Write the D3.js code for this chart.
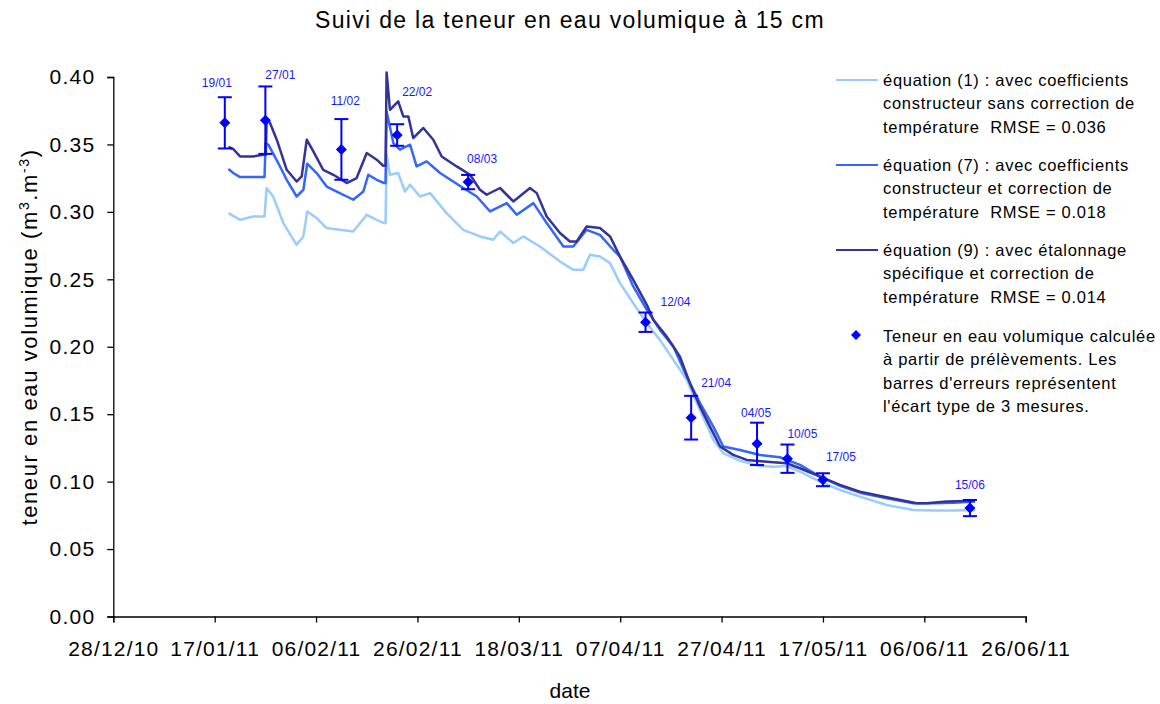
<!DOCTYPE html>
<html><head><meta charset="utf-8">
<script src="https://cdn.jsdelivr.net/npm/d3@7"></script>
<style>
body{margin:0;background:#fff}
text{font-family:"Liberation Sans",Arial,sans-serif}
</style>
</head><body>
<svg id="c" width="1160" height="704"></svg>
<script>
// ---------- DATA ----------
const title = "Suivi de la teneur en eau volumique à 15 cm";
const xTickLabels = ["28/12/10","17/01/11","06/02/11","26/02/11","18/03/11","07/04/11","27/04/11","17/05/11","06/06/11","26/06/11"];
const yTicks = [0,0.05,0.10,0.15,0.20,0.25,0.30,0.35,0.40];

// équation (1) – light blue
const eq1 = [
["2011-01-19T17",0.2991],["2011-01-22T00",0.2941],["2011-01-24T15",0.2966],["2011-01-26T08",0.2966],["2011-01-26T20",0.2966],
["2011-01-27T06",0.3177],["2011-01-28T13",0.3114],["2011-01-30T13",0.2917],["2011-02-02T04",0.2756],["2011-02-03T12",0.2818],
["2011-02-04T06",0.3003],["2011-02-06T03",0.2954],["2011-02-08T02",0.2880],["2011-02-10T17",0.2867],["2011-02-13T08",0.2855],
["2011-02-16T00",0.2978],["2011-02-17T23",0.2941],["2011-02-19T10",0.2917],["2011-02-19T17",0.2917],["2011-02-19T22",0.3424],
["2011-02-20T14",0.3275],["2011-02-22T05",0.3288],["2011-02-23T13",0.3151],["2011-02-24T13",0.3201],["2011-02-26T12",0.3114],
["2011-02-28T12",0.3139],["2011-03-03T18",0.2991],["2011-03-07T01",0.2867],["2011-03-10T08",0.2818],["2011-03-12T23",0.2793],
["2011-03-14T07",0.2855],["2011-03-16T22",0.2769],["2011-03-18T21",0.2818],["2011-03-22T04",0.2743],["2011-03-26T03",0.2632],
["2011-03-28T18",0.2570],["2011-03-30T17",0.2570],["2011-04-01T01",0.2682],["2011-04-03T00",0.2669],["2011-04-05T00",0.2620],
["2011-04-06T23",0.2472],["2011-04-09T14",0.2323],["2011-04-12T06",0.2175],["2011-04-14T20",0.2051],["2011-04-17T12",0.1903],
["2011-04-20T03",0.1754],["2011-04-22T18",0.1532],["2011-04-25T09",0.1309],["2011-04-27T08",0.1211],["2011-04-30T15",0.1154],
["2011-05-04T14",0.1116],["2011-05-07T05",0.1111],["2011-05-09T20",0.1116],["2011-05-12T11",0.1074],["2011-05-16T10",0.1000],
["2011-05-20T09",0.0938],["2011-05-24T07",0.0889],["2011-05-29T14",0.0827],["2011-06-03T20",0.0790],["2011-06-07T18",0.0785],
["2011-06-11T17",0.0785],["2011-06-16T00",0.0790]
];
// équation (7) – mid blue
const eq7 = [
["2011-01-19T17",0.3318],["2011-01-20T16",0.3288],["2011-01-22T00",0.3258],["2011-01-26T11",0.3258],["2011-01-26T20",0.3258],
["2011-01-27T01",0.3510],["2011-01-27T14",0.3498],["2011-01-29T13",0.3362],["2011-01-31T05",0.3238],["2011-02-02T04",0.3114],
["2011-02-03T12",0.3164],["2011-02-04T06",0.3357],["2011-02-06T03",0.3288],["2011-02-08T02",0.3188],["2011-02-10T02",0.3151],
["2011-02-12T01",0.3114],["2011-02-13T08",0.3090],["2011-02-15T08",0.3151],["2011-02-16T07",0.3275],["2011-02-17T23",0.3238],
["2011-02-19T10",0.3214],["2011-02-19T17",0.3214],["2011-02-19T22",0.3745],["2011-02-21T06",0.3510],["2011-02-22T13",0.3461],
["2011-02-24T13",0.3498],["2011-02-25T20",0.3337],["2011-02-27T20",0.3374],["2011-03-02T11",0.3288],["2011-03-07T01",0.3177],
["2011-03-09T17",0.3114],["2011-03-12T08",0.3003],["2011-03-15T15",0.3065],["2011-03-17T14",0.2979],["2011-03-20T21",0.3065],
["2011-03-23T12",0.2917],["2011-03-26T19",0.2743],["2011-03-28T18",0.2743],["2011-03-31T09",0.2867],["2011-04-03T00",0.2830],
["2011-04-05T15",0.2719],["2011-04-06T23",0.2669],["2011-04-09T14",0.2447],["2011-04-12T06",0.2274],["2011-04-14T20",0.2125],
["2011-04-17T12",0.2001],["2011-04-20T03",0.1779],["2011-04-22T18",0.1582],["2011-04-25T09",0.1408],["2011-04-27T08",0.1260],
["2011-04-30T15",0.1235],["2011-05-04T14",0.1198],["2011-05-08T12",0.1181],["2011-05-12T11",0.1124],["2011-05-16T10",0.1037],
["2011-05-20T09",0.0968],["2011-05-24T07",0.0918],["2011-05-29T14",0.0877],["2011-06-03T20",0.0840],["2011-06-07T18",0.0840],
["2011-06-11T17",0.0844],["2011-06-16T00",0.0852]
];
// équation (9) – dark blue
const eq9 = [
["2011-01-19T17",0.3481],["2011-01-20T16",0.3466],["2011-01-22T00",0.3411],["2011-01-24T15",0.3411],["2011-01-26T14",0.3424],
["2011-01-27T02",0.3424],["2011-01-27T06",0.3683],["2011-01-27T22",0.3659],["2011-01-29T06",0.3535],["2011-01-31T05",0.3312],
["2011-02-02T04",0.3225],["2011-02-03T04",0.3263],["2011-02-04T04",0.3535],["2011-02-05T11",0.3448],["2011-02-07T10",0.3312],
["2011-02-09T10",0.3275],["2011-02-12T01",0.3214],["2011-02-14T00",0.3251],["2011-02-16T00",0.3436],["2011-02-17T23",0.3387],
["2011-02-19T06",0.3342],["2011-02-19T17",0.3342],["2011-02-19T22",0.4034],["2011-02-20T14",0.3757],["2011-02-22T05",0.3819],
["2011-02-23T05",0.3708],["2011-02-24T05",0.3708],["2011-02-25T04",0.3547],["2011-02-27T04",0.3622],["2011-03-01T03",0.3535],
["2011-03-02T19",0.3411],["2011-03-05T18",0.3337],["2011-03-08T09",0.3275],["2011-03-10T08",0.3164],["2011-03-11T16",0.3127],
["2011-03-14T07",0.3177],["2011-03-16T22",0.3077],["2011-03-20T05",0.3177],["2011-03-21T13",0.3139],["2011-03-23T12",0.2966],
["2011-03-26T03",0.2843],["2011-03-28T02",0.2780],["2011-03-29T10",0.2780],["2011-03-31T09",0.2892],["2011-04-03T00",0.2880],
["2011-04-05T00",0.2818],["2011-04-06T23",0.2669],["2011-04-09T14",0.2496],["2011-04-12T06",0.2311],["2011-04-13T13",0.2200],
["2011-04-16T04",0.2076],["2011-04-18T19",0.1927],["2011-04-20T18",0.1730],["2011-04-22T18",0.1556],["2011-04-24T17",0.1408],
["2011-04-26T17",0.1260],["2011-04-29T07",0.1198],["2011-05-01T23",0.1161],["2011-05-05T22",0.1148],["2011-05-09T20",0.1136],
["2011-05-12T11",0.1099],["2011-05-16T10",0.1037],["2011-05-20T09",0.0976],["2011-05-24T07",0.0926],["2011-05-29T14",0.0884],
["2011-06-04T12",0.0840],["2011-06-06T11",0.0840],["2011-06-10T10",0.0852],["2011-06-16T00",0.0859]
];

// samples (prélèvements)
const sampleDates  = ["2011-01-19","2011-01-27","2011-02-11","2011-02-22","2011-03-08","2011-04-12","2011-04-21","2011-05-04","2011-05-10","2011-05-17","2011-06-15"];
const sampleLabels = ["19/01","27/01","11/02","22/02","08/03","12/04","21/04","04/05","10/05","17/05","15/06"];
const sampleValues = [0.366,0.368,0.3463,0.357,0.3221,0.2182,0.1474,0.128,0.117,0.1014,0.0804];
const sampleErrors = [0.019,0.025,0.0225,0.008,0.0053,0.0072,0.0162,0.0157,0.0105,0.0048,0.006];

const legendTexts = [
 ["équation (1) : avec coefficients","constructeur sans correction de","température  RMSE = 0.036"],
 ["équation (7) : avec coefficients","constructeur et correction de","température  RMSE = 0.018"],
 ["équation (9) : avec étalonnage","spécifique et correction de","température  RMSE = 0.014"],
 ["Teneur en eau volumique calculée","à partir de prélèvements. Les","barres d'erreurs représentent","l'écart type de 3 mesures."]
];

// ---------- LAYOUT / STYLE ----------
const colors = {eq1:"#99ccff", eq7:"#3366ff", eq9:"#333399", pt:"#0000ff", lab:"#1a1aff"};
const labelOffsets = [[-8,-10],[15,-7],[4,-14],[20,-28],[14,-12],[30,-6],[25,-9],[-1,-6],[15,-7],[18,-12],[0,-11]];
const plotL=113.3, plotR=1025.7, plotT=77, plotB=616.5;

const svg = d3.select("#c");
const pT = d3.timeParse("%Y-%m-%dT%H");
const pD = d3.timeParse("%Y-%m-%d");
const pTick = d3.timeParse("%d/%m/%y");
const fTick = d3.timeFormat("%d/%m/%y");

const x = d3.scaleTime().domain([pTick(xTickLabels[0]), pTick(xTickLabels[xTickLabels.length-1])]).range([plotL,plotR]);
const y = d3.scaleLinear().domain([0,0.4]).range([plotB,plotT]);

// title
svg.append("text").attr("x",570).attr("y",28).attr("text-anchor","middle")
  .attr("font-size",23).attr("letter-spacing",1.3).attr("fill","#000").text(title);

// axes
const xAxis = d3.axisBottom(x).tickValues(xTickLabels.map(pTick)).tickFormat(fTick).tickSize(6).tickPadding(19);
const gx = svg.append("g").attr("transform",`translate(0,${plotB})`).call(xAxis);
const yAxis = d3.axisLeft(y).tickValues(yTicks).tickFormat(d3.format(".2f")).tickSize(6).tickPadding(12);
const gy = svg.append("g").attr("transform",`translate(${plotL},0)`).call(yAxis);
[gx,gy].forEach(g=>{
  g.select(".domain").attr("stroke","#000").attr("stroke-width",1.3);
  g.selectAll(".tick line").attr("stroke","#000").attr("stroke-width",1.3);
  g.selectAll(".tick text").attr("font-size",21).attr("fill","#000").attr("font-family","Liberation Sans, Arial, sans-serif");
});
gx.selectAll(".tick text").attr("letter-spacing",1.2);
gy.selectAll(".tick text").attr("letter-spacing",1.2);

// axis titles
svg.append("text").attr("x",570).attr("y",698).attr("text-anchor","middle").attr("font-size",21).text("date");
const yl = svg.append("text").attr("transform","translate(37,337) rotate(-90)").attr("text-anchor","middle")
  .attr("font-size",22).attr("letter-spacing",1.6);
yl.append("tspan").text("teneur en eau volumique (m");
yl.append("tspan").attr("font-size",14).attr("dy",-8).text("3");
yl.append("tspan").attr("dy",8).text(".m");
yl.append("tspan").attr("font-size",14).attr("dy",-8).text("-3");
yl.append("tspan").attr("dy",8).text(")");

// lines
const line = d3.line().x(d=>x(pT(d[0]))).y(d=>y(d[1]));
[[eq1,colors.eq1],[eq7,colors.eq7],[eq9,colors.eq9]].forEach(([data,c])=>{
  svg.append("path").datum(data).attr("d",line).attr("fill","none").attr("stroke",c)
    .attr("stroke-width",2.5).attr("stroke-linejoin","round");
});

// error bars + diamonds + labels
const diamond = "M0,-5.5L5.5,0L0,5.5L-5.5,0Z";
const gs = svg.append("g");
sampleDates.forEach((ds,i)=>{
  const cx = x(pD(ds)), v = sampleValues[i], e = sampleErrors[i];
  const y1 = y(v+e), y2 = y(v-e);
  gs.append("line").attr("x1",cx).attr("x2",cx).attr("y1",y1).attr("y2",y2).attr("stroke",colors.pt).attr("stroke-width",2);
  [y1,y2].forEach(yy=>gs.append("line").attr("x1",cx-7).attr("x2",cx+7).attr("y1",yy).attr("y2",yy).attr("stroke",colors.pt).attr("stroke-width",2));
  gs.append("path").attr("d",diamond).attr("transform",`translate(${cx},${y(v)})`).attr("fill",colors.pt);
  gs.append("text").attr("x",cx+labelOffsets[i][0]).attr("y",y1+labelOffsets[i][1]).attr("text-anchor","middle")
    .attr("font-size",12).attr("fill",colors.lab).text(sampleLabels[i]);
});

// legend
const lg = svg.append("g");
const groupY = [86,171,256,342];
const lineColors = [colors.eq1,colors.eq7,colors.eq9];
legendTexts.forEach((rows,gi)=>{
  const by = groupY[gi];
  if(gi<3){
    lg.append("line").attr("x1",836).attr("x2",878).attr("y1",by-6).attr("y2",by-6).attr("stroke",lineColors[gi]).attr("stroke-width",2);
  } else {
    lg.append("path").attr("d","M0,-5L5,0L0,5L-5,0Z").attr("transform",`translate(856,${by-7})`).attr("fill",colors.pt);
  }
  rows.forEach((r,ri)=>{
    lg.append("text").attr("x",883).attr("y",by+ri*23.4).attr("font-size",16.5).attr("letter-spacing",0.7).attr("fill","#000")
      .style("white-space","pre").text(r);
  });
});
</script>
</body></html>
